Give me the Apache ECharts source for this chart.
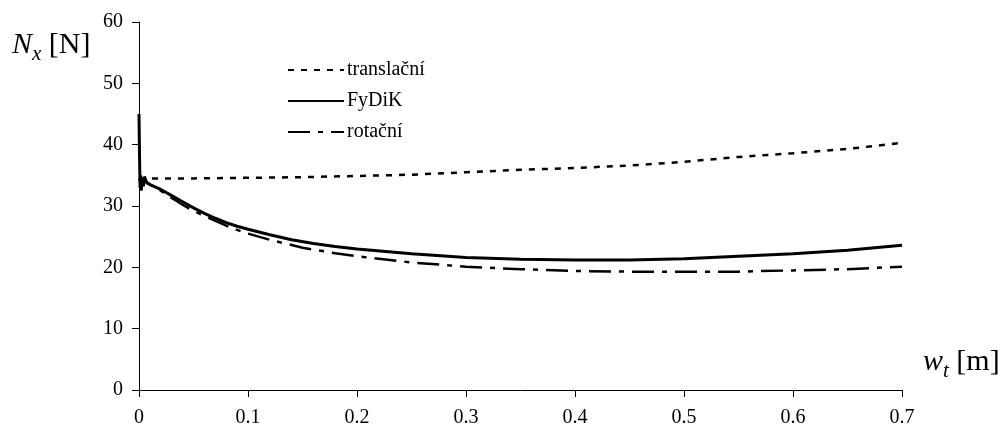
<!DOCTYPE html>
<html>
<head>
<meta charset="utf-8">
<script src="https://cdn.jsdelivr.net/npm/echarts@6/dist/echarts.min.js"></script>
<style>html,body{margin:0;padding:0;background:#fff}#c{width:1006px;height:432px}</style>
</head>
<body>
<div id="c"></div>
<script>
const translX = [0, 0.005, 0.05, 0.1, 0.15, 0.2, 0.25, 0.3, 0.35, 0.4, 0.45, 0.5, 0.55, 0.6, 0.65, 0.7];
const translY = [34.5, 34.5, 34.5, 34.6, 34.7, 34.9, 35.1, 35.5, 35.9, 36.2, 36.6, 37.2, 38.0, 38.6, 39.3, 40.3];

const fydikX = [0, 0.0005, 0.001, 0.0015, 0.002, 0.003, 0.004, 0.005, 0.007, 0.01, 0.02, 0.03, 0.04, 0.05, 0.06, 0.07, 0.08, 0.09, 0.1, 0.12, 0.14, 0.16, 0.18, 0.2, 0.25, 0.3, 0.35, 0.4, 0.45, 0.5, 0.55, 0.6, 0.65, 0.7];
const fydikY = [45, 38, 33, 35, 32.5, 34.5, 33.2, 34.8, 33.8, 33.5, 32.7, 31.7, 30.7, 29.7, 28.8, 28.0, 27.3, 26.7, 26.2, 25.3, 24.5, 23.9, 23.4, 23.0, 22.2, 21.6, 21.3, 21.2, 21.2, 21.4, 21.8, 22.2, 22.8, 23.6];

const rotX = [0, 0.002, 0.005, 0.01, 0.02, 0.03, 0.04, 0.05, 0.065, 0.08, 0.09, 0.1, 0.12, 0.15, 0.18, 0.2, 0.25, 0.3, 0.35, 0.4, 0.45, 0.5, 0.55, 0.6, 0.65, 0.7];
const rotY = [34.5, 33.5, 34.2, 33.5, 32.5, 31.3, 30.2, 29.2, 28.0, 26.8, 26.1, 25.5, 24.5, 23.2, 22.3, 21.8, 20.8, 20.1, 19.7, 19.4, 19.3, 19.3, 19.3, 19.5, 19.7, 20.1];

const names = ['translační', 'FyDiK', 'rotační'];
const xTicks = [0, 0.1, 0.2, 0.3, 0.4, 0.5, 0.6, 0.7];
const yTicks = [0, 10, 20, 30, 40, 50, 60];

const zip = (a, b) => a.map((v, i) => [v, b[i]]);
const F = 'Liberation Serif, Times New Roman, serif';

const nameRich = {
  i: {fontFamily: F, fontStyle: 'italic', fontWeight: 'normal', fontSize: 30, color: '#000', verticalAlign: 'bottom'},
  s: {fontFamily: F, fontStyle: 'italic', fontWeight: 'normal', fontSize: 21, color: '#000', verticalAlign: 'bottom', padding: [0, 0, -5, 0]},
  n: {fontFamily: F, fontWeight: 'normal', fontSize: 30, color: '#000', verticalAlign: 'bottom'}
};

const chart = echarts.init(document.getElementById('c'), null, {renderer: 'canvas'});
chart.setOption({
  animation: false,
  backgroundColor: '#fff',
  textStyle: {fontFamily: F, color: '#000'},
  title: [
    {text: '{i|N}{s|x}{n| [N]}', left: 12, top: 30, padding: 0,
     textStyle: {fontWeight: 'normal', rich: nameRich}},
    {text: '{i|w}{s|t}{n| [m]}', left: 923, top: 347, padding: 0,
     textStyle: {fontWeight: 'normal', rich: nameRich}}
  ],
  legend: {
    orient: 'vertical', left: 287, top: 60, padding: 0,
    itemWidth: 56, itemHeight: 16, itemGap: 11,
    data: names,
    itemStyle: {opacity: 0},
    textStyle: {fontFamily: F, fontSize: 20, color: '#000', padding: [0, 0, 0, -2]},
    inactiveColor: '#000'
  },
  grid: {left: 139, right: 104, top: 22, bottom: 42, containLabel: false},
  xAxis: {
    type: 'value', min: 0, max: 0.7, interval: 0.1,
    axisLine: {show: true, onZero: false, lineStyle: {color: '#000', width: 1}},
    axisTick: {show: true, length: 7, inside: false, lineStyle: {color: '#000'}},
    splitLine: {show: false},
    axisLabel: {fontFamily: F, fontSize: 20, color: '#000', margin: 18,
      formatter: v => { const t = xTicks.find(x => Math.abs(x - v) < 1e-9); return t === undefined ? '' : String(t); }}
  },
  yAxis: {
    type: 'value', min: 0, max: 60, interval: 10,
    axisLine: {show: true, lineStyle: {color: '#000', width: 1}},
    axisTick: {show: true, length: 7, inside: false, lineStyle: {color: '#000'}},
    splitLine: {show: false},
    axisLabel: {fontFamily: F, fontSize: 20, color: '#000', margin: 16,
      formatter: v => yTicks.includes(v) ? String(v) : ''}
  },
  series: [
    {name: names[0], type: 'line', data: zip(translX, translY), symbol: 'none', showSymbol: false,
     lineStyle: {color: '#000', width: 2.5, type: [6, 7]}, itemStyle: {color: '#000'}},
    {name: names[1], type: 'line', data: zip(fydikX, fydikY), symbol: 'none', showSymbol: false,
     lineStyle: {color: '#000', width: 3, type: 'solid'}, itemStyle: {color: '#000'}},
    {name: names[2], type: 'line', data: zip(rotX, rotY), symbol: 'none', showSymbol: false,
     lineStyle: {color: '#000', width: 2.5, type: [22, 8, 5, 8]}, itemStyle: {color: '#000'}}
  ]
});
</script>
</body>
</html>
